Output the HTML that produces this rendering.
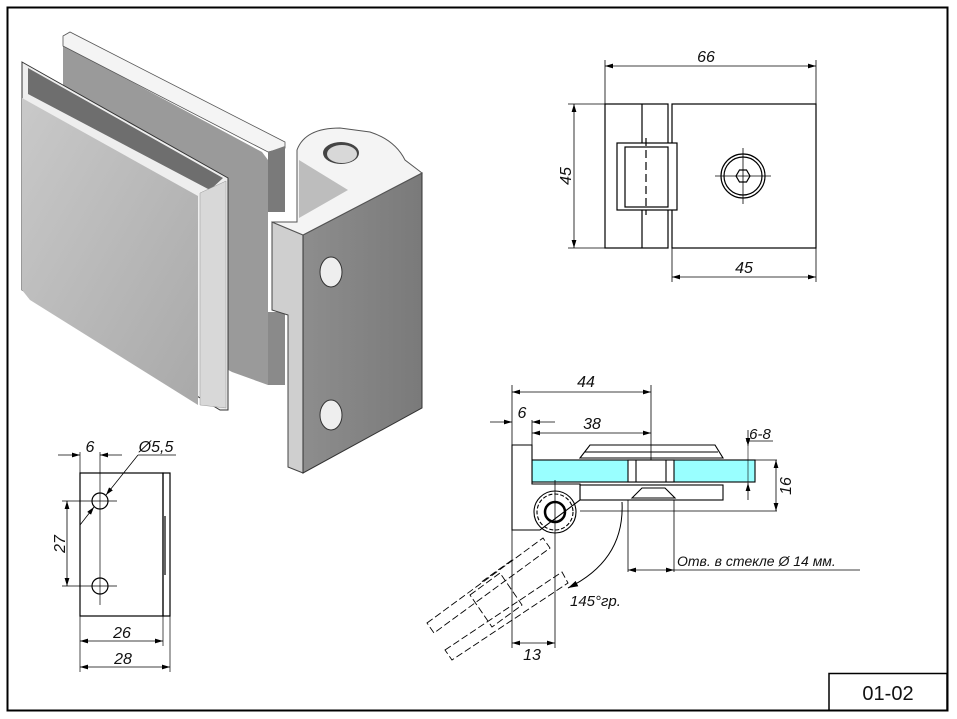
<!DOCTYPE html>
<html><head><meta charset="utf-8"><style>
html,body{margin:0;padding:0;background:#fff;}
svg{display:block;}
text{font-family:"Liberation Sans",sans-serif;font-style:italic;fill:#111;}
</style></head><body>
<svg width="957" height="719" viewBox="0 0 957 719" xmlns="http://www.w3.org/2000/svg">
<defs>
<marker id="a" viewBox="0 0 10 6" refX="10" refY="3" markerWidth="10" markerHeight="6" orient="auto-start-reverse"><path d="M0,0 L10,3 L0,6 z" fill="#000"/></marker>
<linearGradient id="g1" x1="0" y1="0" x2="1" y2="1"><stop offset="0" stop-color="#c9c9c9"/><stop offset="1" stop-color="#a9a9a9"/></linearGradient>
<linearGradient id="g2" x1="0" y1="0" x2="1" y2="0"><stop offset="0" stop-color="#8d8d8d"/><stop offset="1" stop-color="#7a7a7a"/></linearGradient>
</defs>
<rect x="7.5" y="7.5" width="940" height="703" fill="none" stroke="#000" stroke-width="2"/>
<rect x="829" y="673.5" width="118" height="37" fill="none" stroke="#000" stroke-width="1.5"/>
<text x="888" y="700" font-size="20" text-anchor="middle" style="font-style:normal">01-02</text>

<!-- 3D render -->
<polygon points="63,45 262,152 268,160 268,385 232,372 63,280" fill="#9a9a9a"/>
<polygon points="63,36 70,32 285,142 285,148 268,152 63,46" fill="#f4f4f4" stroke="#555" stroke-width="0.8"/>
<polygon points="268,152 285,146 285,212 268,212" fill="#7a7a7a"/>
<polygon points="268,312 285,312 285,385 268,385" fill="#8a8a8a"/>
<polygon points="22,62 228,178 228,410 220,410 22,290" fill="#eee" stroke="#333" stroke-width="1"/>
<polygon points="28,68 223,178 210,190 28,94" fill="#6e6e6e"/>
<polygon points="22,98 198,196 198,405 30,300 22,290" fill="url(#g1)"/>
<polygon points="200,193 226,181 226,408 200,405" fill="#d8d8d8" stroke="#999" stroke-width="0.5"/>
<!-- hinge -->
<polygon points="272,222 303,235 303,473 288,467 288,315 272,310" fill="#cfcfcf" stroke="#444" stroke-width="1"/>
<polygon points="303,235 422,173 422,408 303,473" fill="url(#g2)" stroke="#333" stroke-width="1"/>
<path d="M297,222 L297,150 Q305,128 340,128 L370,132 Q395,140 405,160 L422,173 L303,235 L272,222 Z" fill="#f4f4f4" stroke="#555" stroke-width="1"/>
<polygon points="299,160 348,190 299,218" fill="#bdbdbd"/>
<ellipse cx="341" cy="153" rx="18" ry="11" fill="#444"/>
<ellipse cx="342" cy="154" rx="15" ry="9" fill="#d8d8d8"/>
<ellipse cx="331" cy="272" rx="11" ry="15" fill="#eee" stroke="#333"/>
<ellipse cx="331" cy="415" rx="11" ry="15" fill="#eee" stroke="#333"/>

<!-- top right view -->
<g stroke="#000" fill="none" stroke-width="1.2">
<rect x="605" y="104" width="63" height="144"/>
<rect x="672" y="104" width="144" height="144"/>
<line x1="642" y1="104" x2="642" y2="248"/>
<rect x="617" y="143" width="60" height="67" fill="#fff"/>
<rect x="625" y="147" width="43" height="60"/>
<line x1="646" y1="138" x2="646" y2="215" stroke-dasharray="8,4"/>
<circle cx="743" cy="176" r="22"/><circle cx="743" cy="176" r="19"/>
<polygon points="736,176 739.5,170 746.5,170 750,176 746.5,182 739.5,182"/>
<line x1="715" y1="176" x2="771" y2="176" stroke-width="0.8"/><line x1="743" y1="148" x2="743" y2="204" stroke-width="0.8"/>
<line x1="605" y1="60" x2="605" y2="104" stroke-width="0.8"/><line x1="816" y1="60" x2="816" y2="104" stroke-width="0.8"/>
<line x1="605" y1="66" x2="816" y2="66" stroke-width="0.8" marker-start="url(#a)" marker-end="url(#a)"/>
<line x1="568" y1="104" x2="605" y2="104" stroke-width="0.8"/><line x1="568" y1="248" x2="605" y2="248" stroke-width="0.8"/>
<line x1="574" y1="104" x2="574" y2="248" stroke-width="0.8" marker-start="url(#a)" marker-end="url(#a)"/>
<line x1="672" y1="248" x2="672" y2="282" stroke-width="0.8"/><line x1="816" y1="248" x2="816" y2="282" stroke-width="0.8"/>
<line x1="672" y1="277" x2="816" y2="277" stroke-width="0.8" marker-start="url(#a)" marker-end="url(#a)"/>
</g>
<text x="706" y="62" font-size="16" text-anchor="middle">66</text>
<text x="744" y="273" font-size="16" text-anchor="middle">45</text>
<text x="571" y="176" font-size="16" text-anchor="middle" transform="rotate(-90 571 176)">45</text>

<!-- bottom left view -->
<g stroke="#000" fill="none" stroke-width="1.2">
<rect x="80" y="473" width="83" height="143"/>
<rect x="163" y="473" width="7" height="143"/>
<line x1="165" y1="516" x2="165" y2="575"/>
<circle cx="100" cy="501" r="8"/><circle cx="100" cy="586" r="8"/>
<line x1="100" y1="452" x2="100" y2="605" stroke-width="0.7"/>
<line x1="85" y1="501" x2="117" y2="501" stroke-width="0.7"/><line x1="62" y1="586" x2="117" y2="586" stroke-width="0.7"/>
<line x1="62" y1="501" x2="85" y2="501" stroke-width="0.7"/>
<line x1="67" y1="501" x2="67" y2="586" stroke-width="0.8" marker-start="url(#a)" marker-end="url(#a)"/>
<line x1="80" y1="452" x2="80" y2="473" stroke-width="0.7"/>
<line x1="58" y1="455" x2="80" y2="455" stroke-width="0.8" marker-end="url(#a)"/>
<line x1="122" y1="455" x2="100" y2="455" stroke-width="0.8" marker-end="url(#a)"/>
<line x1="138" y1="455" x2="176" y2="455" stroke-width="0.7"/>
<line x1="138" y1="455" x2="106" y2="495" stroke-width="0.8" marker-end="url(#a)"/>
<line x1="80" y1="525" x2="94" y2="507" stroke-width="0.8" marker-end="url(#a)"/>
<line x1="80" y1="616" x2="80" y2="672" stroke-width="0.7"/><line x1="163" y1="616" x2="163" y2="646" stroke-width="0.7"/><line x1="170" y1="616" x2="170" y2="672" stroke-width="0.7"/>
<line x1="80" y1="641" x2="163" y2="641" stroke-width="0.8" marker-start="url(#a)" marker-end="url(#a)"/>
<line x1="80" y1="667" x2="170" y2="667" stroke-width="0.8" marker-start="url(#a)" marker-end="url(#a)"/>
</g>
<text x="90" y="452" font-size="16" text-anchor="middle">6</text>
<text x="156" y="452" font-size="16" text-anchor="middle">Ø5,5</text>
<text x="65" y="544" font-size="16" text-anchor="middle" transform="rotate(-90 65 544)">27</text>
<text x="122" y="638" font-size="16" text-anchor="middle">26</text>
<text x="123" y="664" font-size="16" text-anchor="middle">28</text>

<!-- bottom right section -->
<g stroke="#000" fill="none" stroke-width="1.1">
<rect x="532" y="460" width="223" height="22" fill="#9ff"/>
<rect x="628" y="460" width="46" height="22" fill="#fff"/>
<line x1="636" y1="460" x2="636" y2="482"/><line x1="666" y1="460" x2="666" y2="482"/>
<polygon points="580,458 590,445 715,445 723,458" fill="#fff"/>
<line x1="585" y1="452" x2="718" y2="452"/>
<rect x="580" y="485" width="143" height="15" fill="#fff"/>
<polygon points="632,498 642,488 665,488 675,498" fill="#fff"/>
<path d="M512,445 L532,445 L532,484 L580,484 L580,500 L540,530 L512,530 Z" fill="#fff"/>
<line x1="512" y1="385" x2="512" y2="648" stroke-width="0.8"/>
<circle cx="555" cy="512" r="21"/><circle cx="555" cy="512" r="18" stroke-dasharray="4,2"/>
<circle cx="555" cy="512" r="10" stroke-width="2.5"/>
<line x1="555" y1="480" x2="555" y2="648" stroke-width="0.8"/>
<line x1="580" y1="511" x2="777" y2="511" stroke-width="0.8"/>
<line x1="755" y1="460" x2="777" y2="460" stroke-width="0.8"/>
<line x1="776" y1="460" x2="776" y2="511" stroke-width="0.8" marker-start="url(#a)" marker-end="url(#a)"/>
<line x1="748" y1="430" x2="748" y2="446" stroke-width="0.8" marker-end="url(#a)"/>
<line x1="748" y1="500" x2="748" y2="483" stroke-width="0.8" marker-end="url(#a)"/>
<line x1="748" y1="446" x2="748" y2="483" stroke-width="0.6"/>
<line x1="746" y1="441" x2="773" y2="441" stroke-width="0.7"/>
<line x1="651" y1="385" x2="651" y2="460" stroke-width="0.8"/>
<line x1="512" y1="392" x2="651" y2="392" stroke-width="0.8" marker-start="url(#a)" marker-end="url(#a)"/>
<line x1="532" y1="420" x2="532" y2="460" stroke-width="0.8"/>
<line x1="490" y1="422" x2="512" y2="422" stroke-width="0.8" marker-end="url(#a)"/>
<line x1="555" y1="422" x2="532" y2="422" stroke-width="0.8" marker-end="url(#a)"/>
<line x1="532" y1="433" x2="651" y2="433" stroke-width="0.8" marker-start="url(#a)" marker-end="url(#a)"/>
<line x1="628" y1="500" x2="628" y2="572" stroke-width="0.8"/><line x1="674" y1="500" x2="674" y2="572" stroke-width="0.8"/>
<line x1="628" y1="570" x2="674" y2="570" stroke-width="0.8" marker-start="url(#a)" marker-end="url(#a)"/>
<line x1="674" y1="570" x2="860" y2="570" stroke-width="0.8"/>
<path d="M622,502 Q625,560 568,588" stroke-width="1" marker-end="url(#a)"/>
<line x1="512" y1="643" x2="555" y2="643" stroke-width="0.8" marker-start="url(#a)" marker-end="url(#a)"/>
<g stroke-dasharray="7,3" stroke-width="0.9">
<polygon points="427,623 543,538 550,548 434,633"/>
<polygon points="445,650 562,572 568,583 452,660"/>
<polygon points="470,595 500,573 522,605 492,627"/>
<line x1="512" y1="560" x2="480" y2="583"/>
</g>
</g>
<text x="586" y="387" font-size="16" text-anchor="middle">44</text>
<text x="522" y="418" font-size="16" text-anchor="middle">6</text>
<text x="592" y="429" font-size="16" text-anchor="middle">38</text>
<text x="760" y="439" font-size="15" text-anchor="middle">6-8</text>
<text x="791" y="486" font-size="16" text-anchor="middle" transform="rotate(-90 791 486)">16</text>
<text x="677" y="566" font-size="14">Отв. в стекле Ø 14 мм.</text>
<text x="570" y="606" font-size="15">145°гр.</text>
<text x="532" y="660" font-size="16" text-anchor="middle">13</text>
</svg>
</body></html>
